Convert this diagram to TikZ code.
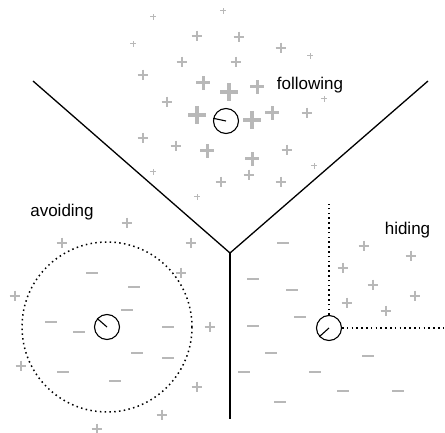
\documentclass[tikz,border=0pt]{standalone}
\usepackage{fontspec}
\setmainfont{Liberation Sans}
\usepackage{tikz}
\usetikzlibrary{positioning}
\definecolor{signgray}{RGB}{184,184,184}

\begin{document}
\begin{tikzpicture}[x=1pt, y=-1pt,
    agent/.style={draw, circle, line width=1.1pt, minimum size=25pt, inner sep=0pt},
    pointer/.style={line width=1.1pt},
    wall/.style={line width=1.3pt},
    sightline/.style={line width=1.5pt, dash pattern=on 1.5pt off 3.3pt},
    sgn/.style={draw=signgray},
    lbl/.style={font=\fontsize{17}{20}\selectfont, inner sep=0pt}
]
\useasboundingbox (0,0) rectangle (445,433);

\coordinate (J) at (230,253);
\coordinate (TL) at (33,81);
\coordinate (TR) at (428,81);
\coordinate (B) at (230,419);
\draw[wall] (TL) -- (J) -- (TR);
\draw[wall] (J) -- (B);

\foreach \x/\y in {133/44,153/17,223/11,310/56,324/99,153/172,314/166,197/197}
  \draw[sgn, line width=1pt] (\x-2.8,\y) -- (\x+2.8,\y) (\x,\y-2.8) -- (\x,\y+2.8);
\foreach \x/\y in {197/36,239/37,281/48,182/62,236/62,143/75,167/102,307/113,143/138,
    176/146,287/150,249/175,221/182,281/182,191/243,181/273,127/223,62/243,15/296,
    210/327,21/366,197/387,162/415,97/429,364/246,411/256,343/268,373/285,347/303,
    386/311,415/296}
  \draw[sgn, line width=2.2pt] (\x-5.3,\y) -- (\x+5.3,\y) (\x,\y-5.3) -- (\x,\y+5.3);
\foreach \x/\y in {203/83,257/87,272/113,207/151,252/159}
  \draw[sgn, line width=3pt] (\x-6.7,\y) -- (\x+6.7,\y) (\x,\y-6.7) -- (\x,\y+6.7);
\foreach \x/\y in {229/92,197/115,252/120}
  \draw[sgn, line width=4pt] (\x-9,\y) -- (\x+9,\y) (\x,\y-9) -- (\x,\y+9);
\foreach \x/\y in {92/273,134/287,127/310,51/322,79/332,168/327,137/353,168/358,63/372,
    115/381,283/243,253/279,292/290,300/317,253/326,271/353,244/372,315/372,343/391,
    280/402,368/356,398/391}
  \draw[sgn, line width=2.2pt] (\x-5.7,\y) -- (\x+5.7,\y);

\node[agent, fill=white] (fol) at (226,121) {};
\draw[pointer] (fol.center) -- (fol.168);
\node[lbl] (folT) at (310,85.5) {following};

\draw[sightline] (107,327) circle[radius=85];
\node[agent] (avo) at (107,327) {};
\draw[pointer] (avo.center) -- (avo.139);
\node[lbl] (avoT) at (62,212) {avoiding};

\node[agent] (hid) at (329,328) {};
\draw[pointer] (hid.center) -- (hid.222);
\coordinate (hidN) at (329,204);
\coordinate (hidE) at (445,328);
\draw[sightline] (hid.north) -- (hidN);
\draw[sightline] (hid.east) -- (hidE);
\node[lbl] (hidT) at (407.5,230.5) {hiding};
\end{tikzpicture}
\end{document}
